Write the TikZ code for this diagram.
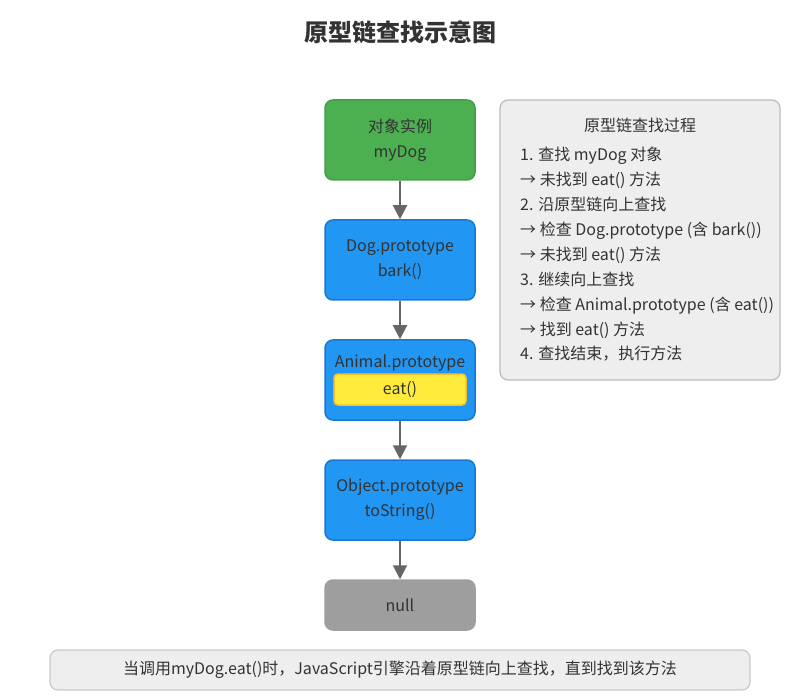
\documentclass[tikz,border=0pt]{standalone}
\usepackage{fontspec}
\setmainfont{Noto Sans CJK SC}
\usepackage{xcolor}
\usepackage{tikz}
\usetikzlibrary{positioning,arrows.meta}
\definecolor{txt}{HTML}{333333}
\definecolor{grn}{HTML}{4CAF50}
\definecolor{grnline}{HTML}{43A047}
\definecolor{blu}{HTML}{2196F3}
\definecolor{bluline}{HTML}{1976D2}
\definecolor{yel}{HTML}{FFEB3B}
\definecolor{yelline}{HTML}{FBC02D}
\definecolor{nul}{HTML}{9E9E9E}
\definecolor{pale}{HTML}{EEEEEE}
\definecolor{paleline}{HTML}{BBBBBB}
\definecolor{arr}{HTML}{666666}
\tikzset{
  chainbox/.style={rectangle, rounded corners=8pt, minimum width=150pt, minimum height=80pt,
    line width=1.5pt, align=center, text=txt, font=\fontsize{16}{25}\selectfont},
  objbox/.style={chainbox, fill=grn, draw=grnline},
  protobox/.style={chainbox, fill=blu, draw=bluline},
  nullbox/.style={chainbox, fill=nul, draw=nul, minimum height=50pt},
  methodbox/.style={rectangle, rounded corners=4pt, minimum width=132pt, minimum height=31pt,
    fill=yel, draw=yelline, line width=1.5pt, text=txt, font=\fontsize{16}{18}\selectfont},
  infobox/.style={rectangle, rounded corners=8pt, fill=pale, draw=paleline, line width=1.2pt},
  lbl/.style={text=txt, font=\fontsize{16}{18}\selectfont, inner sep=0pt},
  link/.style={draw=arr, line width=2pt, -{Triangle[width=14pt,length=14pt]}}
}
\begin{document}
\begin{tikzpicture}[x=1pt, y=-1pt]
  \useasboundingbox (0,0) rectangle (800,700);

  % Title
  \node[text=txt, font=\fontsize{24}{28}\selectfont\bfseries] (title) at (400,32) {原型链查找示意图};

  % Prototype chain
  \node[objbox] (mydog) at (400,140) {对象实例\\myDog};
  \node[protobox] (dogproto) at (400,260) {Dog.prototype\\bark()};
  \node[protobox] (animalproto) at (400,380) {};
  \node[lbl] (animaltxt) at (400,363) {Animal.prototype};
  \node[methodbox] (eat) at (400,389.5) {eat()};
  \node[protobox] (objproto) at (400,500) {Object.prototype\\toString()};
  \node[nullbox] (null) at (400,605) {null};

  % Links up the chain
  \draw[link] (mydog) -- (dogproto);
  \draw[link] (dogproto) -- (animalproto);
  \draw[link] (animalproto) -- (objproto);
  \draw[link] (objproto) -- (null);

  % Lookup steps
  \node[infobox, minimum width=280pt, minimum height=280pt] (steps) at (640,240) {};
  \node[lbl] (stepstitle) at (640,125) {原型链查找过程};
  \node[lbl, anchor=north west, align=left, font=\fontsize{16}{24.9}\selectfont] (steplist) at (520,147)
    {1. 查找 myDog 对象\\
     → 未找到 eat() 方法\\
     2. 沿原型链向上查找\\
     → 检查 Dog.prototype (含 bark())\\
     → 未找到 eat() 方法\\
     3. 继续向上查找\\
     → 检查 Animal.prototype (含 eat())\\
     → 找到 eat() 方法\\
     4. 查找结束，执行方法};

  % Note
  \node[infobox, draw=paleline!80, minimum width=700pt, minimum height=40pt] (note) at (400,670) {};
  \node[lbl] (notetxt) at (400,670) {当调用myDog.eat()时，JavaScript引擎沿着原型链向上查找，直到找到该方法};
\end{tikzpicture}
\end{document}
